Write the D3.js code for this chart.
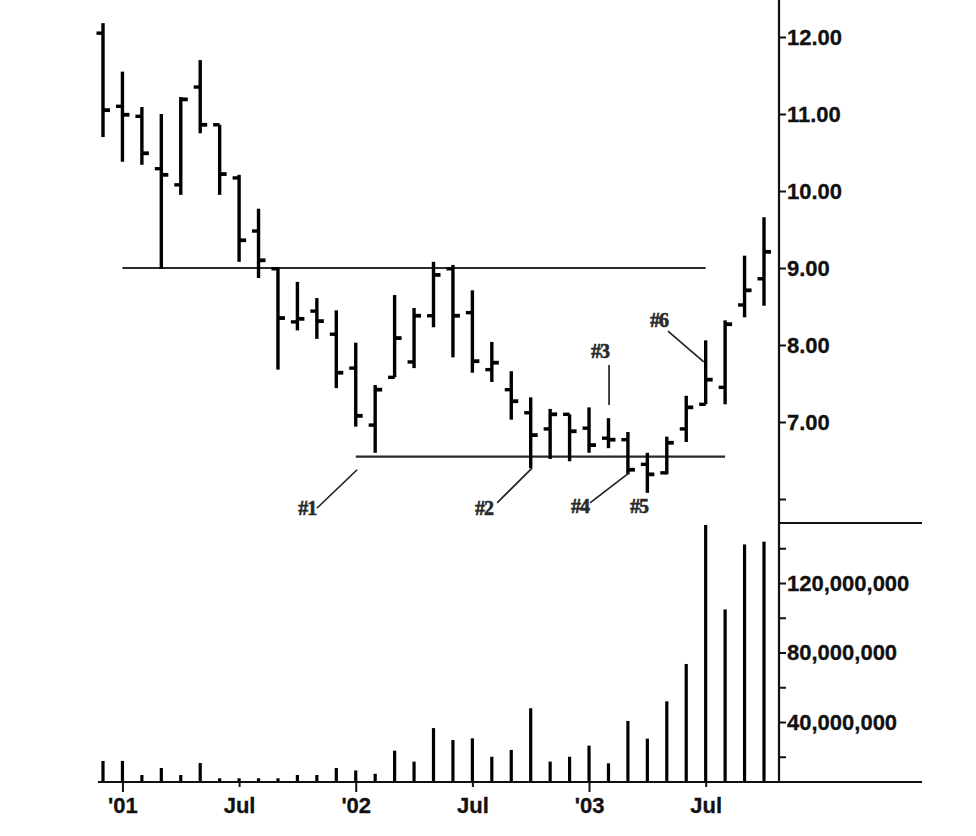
<!DOCTYPE html>
<html><head><meta charset="utf-8">
<script src="https://cdn.jsdelivr.net/npm/d3@7"></script>
<style>body{margin:0;background:#fff}svg{display:block}</style>
</head><body>
<script>
const months = ["2000-12","2001-01","2001-02","2001-03","2001-04","2001-05","2001-06","2001-07","2001-08","2001-09","2001-10","2001-11","2001-12",
"2002-01","2002-02","2002-03","2002-04","2002-05","2002-06","2002-07","2002-08","2002-09","2002-10","2002-11","2002-12",
"2003-01","2003-02","2003-03","2003-04","2003-05","2003-06","2003-07","2003-08","2003-09","2003-10"];
const open  = [12.05,11.10,10.97,10.29,10.08,11.35,10.86,10.17,9.48,8.99,8.30,8.44,8.14,7.70,6.96,7.58,7.78,8.38,8.99,8.42,7.68,7.42,7.12,6.91,7.10,6.92,6.79,6.77,6.45,6.34,6.91,7.23,7.45,8.52,8.86];
const high  = [12.18,11.55,11.09,11.00,11.22,11.70,10.86,10.21,9.77,9.01,8.82,8.61,8.45,8.03,7.48,8.65,8.48,9.08,9.04,8.71,8.04,7.66,7.32,7.17,7.10,7.19,7.05,6.87,6.60,6.81,7.34,8.06,8.32,9.16,9.66];
const low   = [10.70,10.38,10.34,8.99,9.95,10.75,9.95,9.08,8.87,7.68,8.19,8.08,7.44,6.94,6.60,7.58,7.70,8.23,7.84,7.64,7.52,7.03,6.40,6.52,6.49,6.60,6.66,6.32,6.08,6.32,6.74,7.23,7.23,8.36,8.51];
const close = [11.05,10.99,10.49,10.21,11.19,10.86,10.22,9.36,9.10,8.35,8.34,8.31,7.64,7.08,7.42,8.09,8.38,8.91,8.38,7.79,7.77,7.27,6.83,7.10,6.88,6.70,6.77,6.38,6.32,6.73,7.19,7.55,8.27,8.71,9.21];
const volume = [17.6,17.6,9.5,13.5,9.5,16.4,7.6,7.6,7.6,7.6,9.5,9.5,13.5,12.1,10.2,23.5,17.2,36.5,29.6,30.6,20.0,23.9,47.9,17.2,20.0,26.4,16.2,40.6,30.4,51.9,73.4,153.4,104.8,142.2,143.8].map(v=>v*1e6);

const xTickIdx = [1,7,13,19,25,31];
const xTickLabels = ["'01","Jul","'02","Jul","'03","Jul"];
const xTickMajor = [true,false,true,false,true,false];
const priceTicks = [6,7,8,9,10,11,12];
const volTicks = [20e6,40e6,60e6,80e6,100e6,120e6,140e6];
const volLabeled = [40e6,80e6,120e6];

// horizontal trend lines: [startIdx, endIdx, price]
const hLines = [[1,31,9.0],[13,32,6.55]];
// annotations
const annLabels = ["#1","#2","#3","#4","#5","#6"];
const annTextIdx = [10.5,19.6,25.57,24.54,27.57,28.6];
const annTextPrice = [5.79,5.79,7.83,5.82,5.82,8.23];
const annLines = [[11.0,5.88,13.07,6.38],[20.27,5.95,22.07,6.40],[26.03,7.74,26.03,7.22],[25.05,5.95,27.06,6.34],null,[29.06,8.18,30.9,7.78]];

const W=976,H=836;
const svg=d3.select("body").append("svg").attr("width",W).attr("height",H);
const x=d3.scaleLinear().domain([0,months.length-1]).range([103,764]);
const yP=d3.scaleLinear().domain([6,12]).range([499,37]);
const yV=d3.scaleLinear().domain([40e6,120e6]).range([722,583]);
const axisX=779, baseY=782, sepY=523, rightEnd=922;
const ink="#111";
const font="'Liberation Sans', Arial, sans-serif";

// trend lines
svg.append("g").selectAll("line").data(hLines).join("line")
 .attr("x1",d=>x(d[0])).attr("x2",d=>x(d[1])).attr("y1",d=>yP(d[2])).attr("y2",d=>yP(d[2]))
 .attr("stroke","#2a2a2a").attr("stroke-width",2.2);

// OHLC bars
const gb=svg.append("g").attr("stroke","#000");
months.forEach((m,i)=>{
  const cx=x(i);
  gb.append("line").attr("stroke-width",3.4).attr("x1",cx).attr("x2",cx).attr("y1",yP(high[i])).attr("y2",yP(low[i]));
  gb.append("line").attr("stroke-width",3.4).attr("x1",cx-6.5).attr("x2",cx).attr("y1",yP(open[i])).attr("y2",yP(open[i]));
  gb.append("line").attr("stroke-width",3.8).attr("x1",cx).attr("x2",cx+7).attr("y1",yP(close[i])).attr("y2",yP(close[i]));
});

// volume bars
svg.append("g").selectAll("rect").data(volume).join("rect")
 .attr("x",(d,i)=>x(i)-1.6).attr("width",3.2)
 .attr("y",d=>yV(d)).attr("height",d=>baseY-yV(d)).attr("fill","#000");

// annotations
svg.append("g").selectAll("line").data(annLines.filter(d=>d)).join("line")
 .attr("x1",d=>x(d[0])).attr("y1",d=>yP(d[1])).attr("x2",d=>x(d[2])).attr("y2",d=>yP(d[3]))
 .attr("stroke","#222").attr("stroke-width",1.7);
svg.append("g").selectAll("text").data(annLabels).join("text")
 .attr("x",(d,i)=>x(annTextIdx[i])).attr("y",(d,i)=>yP(annTextPrice[i]))
 .attr("text-anchor","middle").attr("font-family","'Liberation Serif','Times New Roman',serif")
 .attr("font-weight","bold").attr("font-size",20).attr("letter-spacing",-1)
 .attr("fill","#2a2a2a").attr("stroke","#2a2a2a").attr("stroke-width",0.6).text(d=>d);

// frame lines
svg.append("line").attr("x1",axisX).attr("x2",axisX).attr("y1",0).attr("y2",baseY).attr("stroke",ink).attr("stroke-width",2.2);
svg.append("line").attr("x1",98).attr("x2",rightEnd).attr("y1",baseY).attr("y2",baseY).attr("stroke",ink).attr("stroke-width",2.2);
svg.append("line").attr("x1",axisX).attr("x2",rightEnd).attr("y1",sepY).attr("y2",sepY).attr("stroke",ink).attr("stroke-width",2.2);

// price axis
const pa=svg.append("g").attr("transform",`translate(${axisX},0)`)
 .call(d3.axisRight(yP).tickValues(priceTicks).tickSize(7).tickPadding(1)
   .tickFormat(d=>d===6?"":d3.format(".2f")(d)));
// volume axis
const va=svg.append("g").attr("transform",`translate(${axisX},0)`)
 .call(d3.axisRight(yV).tickValues(volTicks).tickSize(7).tickPadding(1)
   .tickFormat(d=>volLabeled.includes(d)?d3.format(",")(d):""));
// x axis
const xa=svg.append("g").attr("transform",`translate(0,${baseY})`)
 .call(d3.axisBottom(x).tickValues(xTickIdx).tickSize(10).tickPadding(4)
   .tickFormat((d,i)=>xTickLabels[i]));
xa.selectAll(".tick line").attr("y2",(d,i)=>xTickMajor[i]?10:5);
[pa,va,xa].forEach(g=>{
  g.select(".domain").remove();
  g.selectAll(".tick line").attr("stroke",ink).attr("stroke-width",2);
  g.selectAll("text").attr("font-family",font).attr("font-weight","bold").attr("font-size",22)
   .attr("fill",ink).attr("stroke",ink).attr("stroke-width",0.3);
});
xa.selectAll("text").attr("dy","0.71em").attr("y",15);
</script>
</body></html>
